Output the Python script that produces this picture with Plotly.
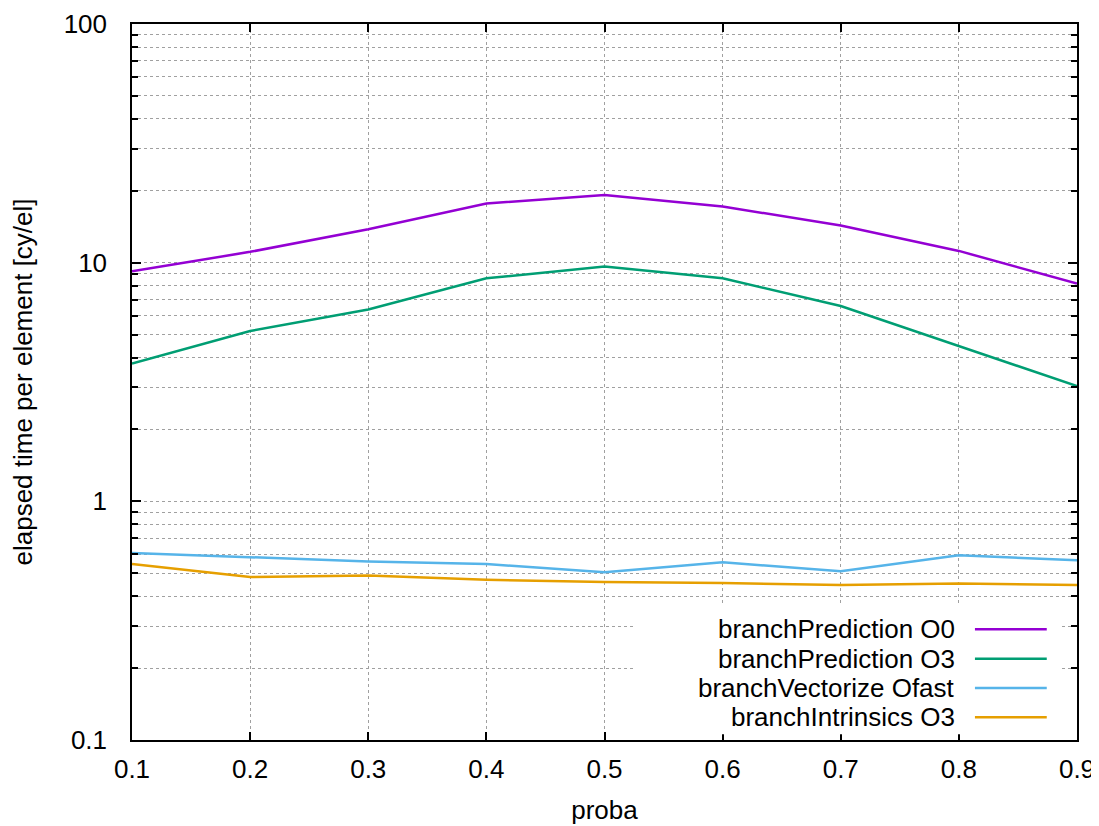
import plotly.graph_objects as go

# ---- data ----
proba = [0.1, 0.2, 0.3, 0.4, 0.5, 0.6, 0.7, 0.8, 0.9]
pred_O0 = [9.2, 11.1, 13.8, 17.7, 19.2, 17.2, 14.3, 11.2, 8.17]
pred_O3 = [3.78, 5.17, 6.37, 8.6, 9.63, 8.6, 6.58, 4.47, 3.04]
vect_Ofast = [0.608, 0.584, 0.56, 0.546, 0.504, 0.555, 0.509, 0.594, 0.566]
intr_O3 = [0.546, 0.482, 0.489, 0.469, 0.459, 0.4545, 0.446, 0.453, 0.446]

series_names = ["branchPrediction O0", "branchPrediction O3",
                "branchVectorize Ofast", "branchIntrinsics O3"]
series_values = [pred_O0, pred_O3, vect_Ofast, intr_O3]
series_colors = ["#9400d3", "#009e73", "#56b4e9", "#e69f00"]

x_ticks = [0.1, 0.2, 0.3, 0.4, 0.5, 0.6, 0.7, 0.8, 0.9]
y_ticks = [0.1, 1, 10, 100]
y_ticktext = ["0.1", "1", "10", "100"]
y_minor = [k * 10 ** e for e in (-1, 0, 1) for k in range(2, 10)]

FONT = "Liberation Sans, Arial, sans-serif"
FS = 26
GRID = "#a0a0a0"

fig = go.Figure()
for name, vals, col in zip(series_names, series_values, series_colors):
    fig.add_trace(go.Scatter(x=proba, y=vals, mode="lines", name=name,
                             line=dict(color=col, width=2.5), showlegend=False))

# custom gnuplot-style legend (text, then line sample), opaque box hiding grid
fig.add_shape(type="rect", xref="paper", yref="paper", x0=0.531, x1=0.982,
              y0=0.008, y1=0.1885, fillcolor="white", line=dict(width=0),
              layer="above")
row_y = [0.1546, 0.1135, 0.0726, 0.0317]
for name, col, ry in zip(series_names, series_colors, row_y):
    fig.add_annotation(xref="paper", yref="paper", x=0.873, y=ry, text=name,
                       showarrow=False, xanchor="right", yanchor="middle",
                       font=dict(family=FONT, size=FS, color="black"))
    fig.add_shape(type="line", xref="paper", yref="paper", x0=0.892, x1=0.968,
                  y0=ry, y1=ry, line=dict(color=col, width=2.5), layer="above")

axis_common = dict(
    showline=True, linecolor="black", linewidth=1.5, mirror="ticks",
    ticks="inside", tickcolor="black", tickwidth=1.5,
    showgrid=True, gridcolor=GRID, griddash="dot", gridwidth=1,
    zeroline=False,
    tickfont=dict(family=FONT, size=FS, color="black"),
)

fig.update_xaxes(
    **axis_common,
    range=[0.1, 0.9], tickvals=x_ticks, ticklen=8,
    ticktext=[f"{v:.1f}" for v in x_ticks],
    ticklabelstandoff=5,
    title=dict(text="proba", font=dict(family=FONT, size=FS, color="black"),
               standoff=18),
)
fig.update_yaxes(
    **axis_common,
    type="log", range=[-1, 2], tickvals=y_ticks, ticktext=y_ticktext,
    ticklen=9, ticklabelstandoff=18,
    minor=dict(tickvals=y_minor, ticks="inside", ticklen=6, tickcolor="black",
               tickwidth=1.5, showgrid=True, gridcolor=GRID, griddash="dot",
               gridwidth=1),
    title=dict(text="elapsed time per element [cy/el]",
               font=dict(family=FONT, size=FS, color="black"), standoff=25),
)

fig.update_layout(
    width=1091, height=818,
    margin=dict(l=124, r=22, t=16, b=86, autoexpand=False),
    plot_bgcolor="white", paper_bgcolor="white",
    font=dict(family=FONT, size=FS, color="black"),
)

fig.write_html("out.html")
